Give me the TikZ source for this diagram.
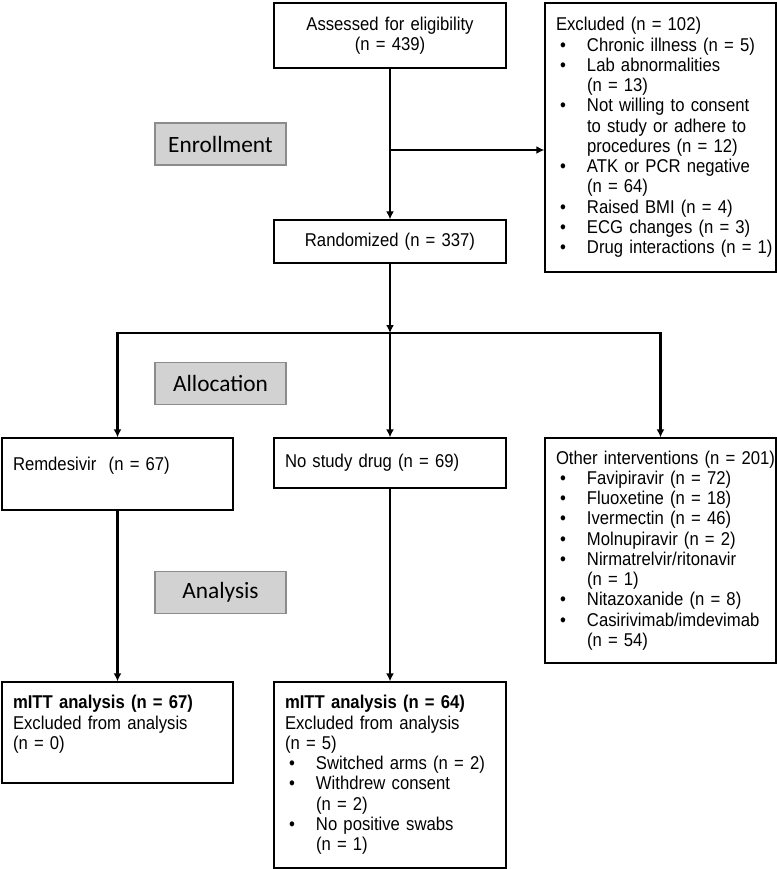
\documentclass[tikz,border=0pt]{standalone}
\usepackage{fontspec}
\setmainfont{Liberation Sans}[FakeStretch=0.9]
\newfontfamily\stagefont{Carlito}
\usetikzlibrary{arrows.meta}
\newcommand{\bul}[1]{\\\makebox[23.25pt][l]{\hspace{3pt}\textbullet}\mbox{#1}}
\newcommand{\cont}[1]{\\\hspace*{23.25pt}\mbox{#1}}
\begin{document}
\begin{tikzpicture}[x=0.75pt, y=-0.75pt,
 box/.style={draw, line width=1pt, inner xsep=8.25pt, inner ysep=0pt, font=\fontsize{13.9}{15.2}\selectfont},
 stage/.style={draw=black!45, fill=gray!35, line width=1pt, minimum width=98.25pt, minimum height=31.5pt, font=\stagefont\fontsize{17.5}{20}\selectfont},
 flow/.style={line width=1.8pt, -{Latex[length=6pt, width=6pt]}}]
 \useasboundingbox (0, 0) rectangle (777, 869);
 \node[box, align=center, text width=157.5pt, minimum height=48.75pt] (assess) at (390, 35.5) {Assessed for eligibility\\(n = 439)};
 \node[box, align=left, text width=156.75pt, minimum height=201.75pt] (excl) at (660.5, 137.5) {\mbox{Excluded (n = 102)}\bul{Chronic illness (n = 5)}\bul{Lab abnormalities}\cont{(n = 13)}\bul{Not willing to consent}\cont{to study or adhere to}\cont{procedures (n = 12)}\bul{ATK or PCR negative}\cont{(n = 64)}\bul{Raised BMI (n = 4)}\bul{ECG changes (n = 3)}\bul{Drug interactions (n = 1)}};
 \node[stage] (enrol) at (220.5, 144) {Enrollment};
 \node[box, align=center, text width=157.5pt, minimum height=32.25pt] (rand) at (390, 241.5) {Randomized (n = 337)};
 \node[stage] (alloc) at (220.5, 383.5) {Allocation};
 \node[box, align=left, text width=156.75pt, minimum height=54pt] (remd) at (117.5, 474) {Remdesivir\ \ (n = 67)\\~};
 \node[box, align=left, text width=157.5pt, minimum height=37.5pt] (nodrug) at (390, 463) {No study drug (n = 69)};
 \node[box, align=left, text width=156.75pt, minimum height=168.75pt] (other) at (660.5, 550.5) {\mbox{Other interventions (n = 201)}\bul{Favipiravir (n = 72)}\bul{Fluoxetine (n = 18)}\bul{Ivermectin (n = 46)}\bul{Molnupiravir (n = 2)}\bul{Nirmatrelvir/ritonavir}\cont{(n = 1)}\bul{Nitazoxanide (n = 8)}\bul{Casirivimab/imdevimab}\cont{(n = 54)}};
 \node[stage] (analys) at (220.5, 592.5) {Analysis};
 \node[box, align=left, text width=156.75pt, minimum height=75.75pt] (mitta) at (117.5, 732.5) {\textbf{mITT analysis (n = 67)}\\Excluded from analysis\\(n = 0)\\~};
 \node[box, align=left, text width=157.5pt, minimum height=139.5pt] (mittb) at (390, 775) {\textbf{mITT analysis (n = 64)}\\Excluded from analysis\\(n = 5)\bul{Switched arms (n = 2)}\bul{Withdrew consent}\cont{(n = 2)}\bul{No positive swabs}\cont{(n = 1)}};
 \coordinate (split) at (390, 150);
 \coordinate (fork) at (390, 333);
 \draw[flow] (assess.south) -- (rand.north);
 \draw[flow] (split) -- (excl.west |- split);
 \draw[flow] (rand.south) -- (fork);
 \draw[flow] (fork) -| (remd.north);
 \draw[flow] (fork) -- (nodrug.north);
 \draw[flow] (fork) -| (other.north);
 \draw[flow] (remd.south) -- (mitta.north);
 \draw[flow] (nodrug.south) -- (mittb.north);
\end{tikzpicture}
\end{document}
